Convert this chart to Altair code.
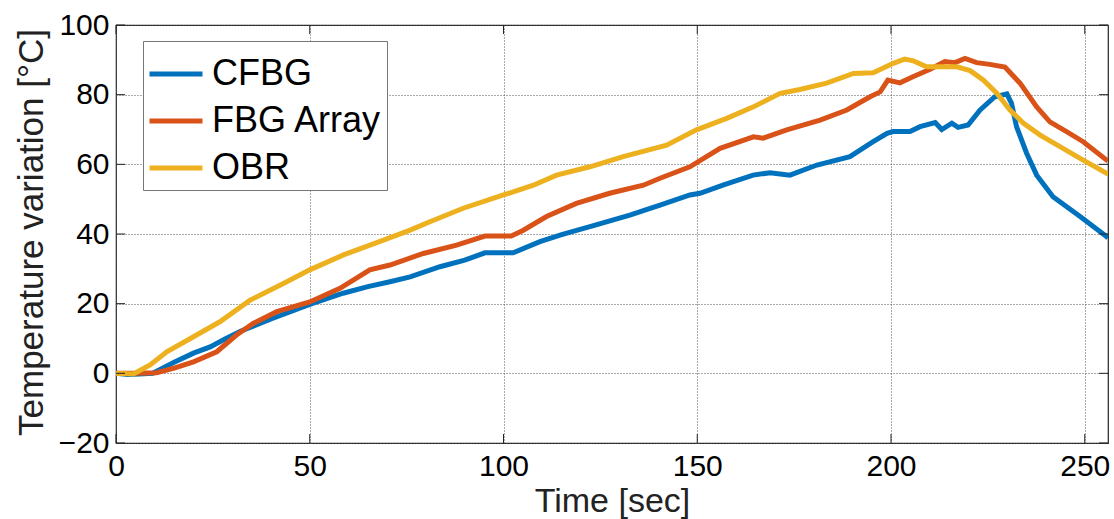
import altair as alt
import pandas as pd

series_names = ["CFBG", "FBG Array", "OBR"]
colors = ["#0072BD", "#D95319", "#EDB120"]

cfbg_t = [0, 3, 6, 9.5, 15, 20, 24.3, 28, 32, 40, 50, 58.6, 65, 70.7, 75.9, 83.6, 90, 95.2,
          102.5, 109.4, 115, 122.3, 132.6, 140.4, 148.1, 150.7, 157, 164.4, 168.8, 173.9,
          180.9, 189.4, 195.4, 199, 200.5, 204.9, 207.5, 211.4, 213.1, 215.7, 217.3, 219.9,
          223, 226.8, 229.9, 231.1, 232.4, 235, 237.6, 241.8, 248.8, 255.7, 256]
cfbg_v = [0, -0.3, -0.2, 0, 3.2, 5.8, 7.6, 9.8, 12, 15.6, 19.8, 23, 24.9, 26.3, 27.7, 30.6,
          32.5, 34.6, 34.6, 37.8, 39.8, 42.1, 45.4, 48.3, 51.2, 51.7, 54.2, 56.9, 57.6, 56.9,
          59.8, 62.2, 66.5, 68.9, 69.4, 69.4, 70.8, 72, 70, 71.8, 70.6, 71.3, 75.6, 79.4,
          80.2, 77.5, 70.8, 63.2, 56.9, 50.7, 45, 39.2, 38.8]

fbg_t = [0, 5, 10.5, 15, 20, 26, 31.1, 35.4, 41.5, 50, 57.8, 65.5, 70.7, 79.3, 87.9, 95.2,
         102, 105, 111.1, 118.8, 127.4, 136.1, 140.4, 148.1, 155.9, 164.5, 167, 173.1,
         181.7, 188.6, 194.6, 197.2, 199.2, 202.3, 205.8, 210.1, 213.9, 216.5, 219.1,
         222.1, 225.5, 229.4, 233.3, 237.6, 241, 245.3, 249.6, 255.7, 256]
fbg_v = [0, 0, 0.2, 1.5, 3.3, 6.2, 11, 14.3, 17.7, 20.5, 24.4, 29.7, 31.1, 34.4, 36.8, 39.4,
         39.4, 41, 45, 48.8, 51.7, 54, 56, 59.3, 64.6, 67.9, 67.5, 69.9, 72.7, 75.6, 79.4,
         80.8, 84.2, 83.4, 85.2, 87.3, 89.5, 89.2, 90.4, 89.2, 88.7, 87.9, 83.3, 76.5, 72.2,
         69.4, 66.5, 61.2, 61]

obr_t = [0, 4.5, 8.8, 13.1, 20, 26.8, 34.6, 43.2, 50, 58.7, 67.3, 75.9, 81, 89.6, 100,
         107.7, 113.7, 122.3, 130.9, 142.1, 149.8, 157.6, 164.5, 171.4, 176.5, 183.4,
         190.3, 195.4, 200.6, 203.5, 205.8, 209.2, 213, 217, 220.4, 223.8, 227.3, 230.7,
         234.2, 238.5, 243.6, 248.8, 255.7, 256]
obr_v = [0, -0.2, 2.4, 6.2, 10.5, 14.8, 21, 25.8, 29.7, 34, 37.5, 41.1, 43.5, 47.4, 51.2,
         54, 56.9, 59.3, 62.2, 65.5, 69.9, 73.2, 76.5, 80.4, 81.5, 83.3, 86.1, 86.3, 89,
         90.2, 89.7, 88, 88, 88, 86.9, 84.2, 80.4, 75.6, 71.8, 68.4, 65.1, 61.7, 57.4, 57.3]

x_ticks = [0, 50, 100, 150, 200, 250]
y_ticks = [-20, 0, 20, 40, 60, 80, 100]

W, H = 992, 418
FONT = "Liberation Sans"

rows = []
for name, ts, vs in [(series_names[0], cfbg_t, cfbg_v),
                     (series_names[1], fbg_t, fbg_v),
                     (series_names[2], obr_t, obr_v)]:
    for t, v in zip(ts, vs):
        rows.append({"series": name, "t": t, "v": v})
df = pd.DataFrame(rows)

xscale = alt.Scale(domain=[0, 256], nice=False, zero=False)
yscale = alt.Scale(domain=[-20, 100], nice=False, zero=False)

x_axis = alt.Axis(values=x_ticks, title="Time [sec]", grid=True, domain=False,
                  ticks=False, tickSize=0, labelFontSize=30, labelPadding=8,
                  labelFlush=False, labelOverlap=False, titleFontSize=34,
                  titleFontWeight="normal", titleY=68, titleBaseline="alphabetic",
                  labelColor="black", titleColor="#222")
y_axis = alt.Axis(values=y_ticks, title="Temperature variation [°C]", grid=True,
                  domain=False, ticks=False, tickSize=0, labelFontSize=30,
                  labelPadding=7, labelFlush=False, labelOverlap=False,
                  titleFontSize=35, titleFontWeight="normal", titleX=-74, titleY=207,
                  titleAngle=270, titleBaseline="alphabetic", titleAlign="center",
                  labelColor="black", titleColor="#222")

lines = alt.Chart(df).mark_line(strokeWidth=5, clip=True).encode(
    x=alt.X("t:Q", scale=xscale, axis=x_axis, title="Time [sec]"),
    y=alt.Y("v:Q", scale=yscale, axis=y_axis, title="Temperature variation [°C]"),
    color=alt.Color("series:N", scale=alt.Scale(domain=series_names, range=colors),
                    legend=alt.Legend(title=None, orient="none", legendX=27, legendY=16,
                                      symbolType="stroke", symbolSize=2809,
                                      symbolStrokeWidth=5, labelFontSize=36, labelOffset=7,
                                      labelLimit=400,
                                      padding=4, rowPadding=-3, fillColor="white",
                                      strokeColor="#777", labelColor="black",
                                      labelFont=FONT)),
)

xt = pd.DataFrame({"t": x_ticks})
yt = pd.DataFrame({"v": y_ticks})
tick_style = dict(color="#222", strokeWidth=1)
tb = alt.Chart(xt).mark_rule(**tick_style).encode(
    x=alt.X("t:Q", scale=xscale, axis=x_axis, title="Time [sec]"),
    y=alt.value(H), y2=alt.value(H - 9))
tt = alt.Chart(xt).mark_rule(**tick_style).encode(
    x=alt.X("t:Q", scale=xscale, axis=x_axis, title="Time [sec]"),
    y=alt.value(0), y2=alt.value(9))
tl = alt.Chart(yt).mark_rule(**tick_style).encode(
    y=alt.Y("v:Q", scale=yscale, axis=y_axis, title="Temperature variation [°C]"),
    x=alt.value(0), x2=alt.value(9))
tr = alt.Chart(yt).mark_rule(**tick_style).encode(
    y=alt.Y("v:Q", scale=yscale, axis=y_axis, title="Temperature variation [°C]"),
    x=alt.value(W), x2=alt.value(W - 9))

chart = alt.layer(lines, tb, tt, tl, tr).properties(
    width=W, height=H,
    padding={"left": 116, "top": 25, "right": 6, "bottom": 76},
    autosize=alt.AutoSizeParams(type="none"),
).configure(font=FONT).configure_axis(
    gridColor="#555", gridDash=[1, 2], gridOpacity=1, gridWidth=1,
    labelFont=FONT, titleFont=FONT,
).configure_view(stroke="#222", strokeWidth=1.2)

chart.save("out.html", embed_options={"renderer": "svg", "actions": False})
